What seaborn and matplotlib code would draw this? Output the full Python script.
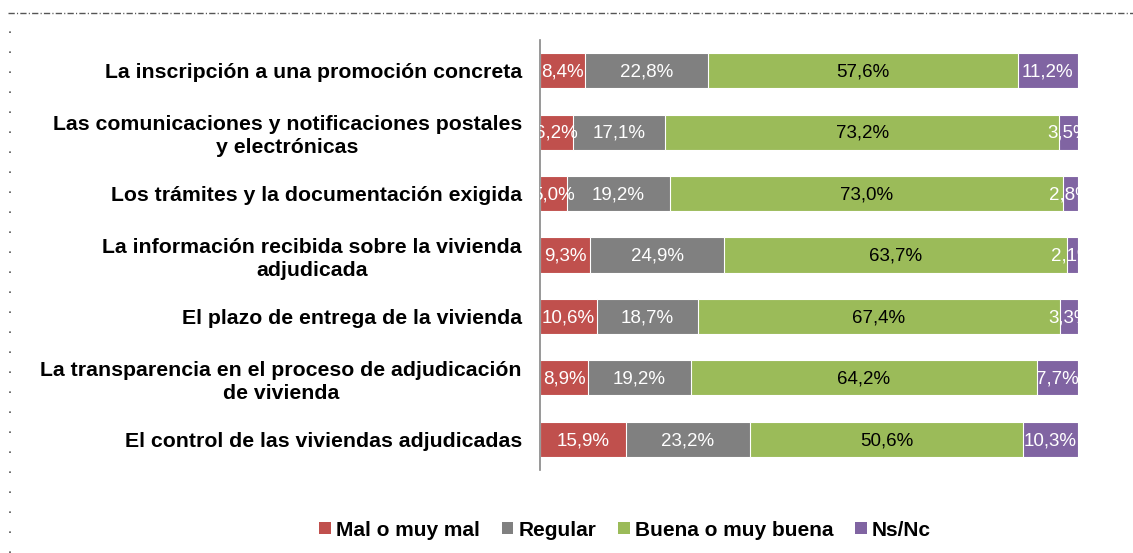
import numpy as np
import pandas as pd
import seaborn as sns
import matplotlib.pyplot as plt
from matplotlib.patches import Patch
from matplotlib.lines import Line2D

# Data (percentages)
categories = [
    "La inscripción a una promoción concreta",
    "Las comunicaciones y notificaciones postales\ny electrónicas",
    "Los trámites y la documentación exigida",
    "La información recibida sobre la vivienda\nadjudicada",
    "El plazo de entrega de la vivienda",
    "La transparencia en el proceso de adjudicación\nde vivienda",
    "El control de las viviendas adjudicadas",
]
mal = [8.4, 6.2, 5.0, 9.3, 10.6, 8.9, 15.9]
regular = [22.8, 17.1, 19.2, 24.9, 18.7, 19.2, 23.2]
buena = [57.6, 73.2, 73.0, 63.7, 67.4, 64.2, 50.6]
nsnc = [11.2, 3.5, 2.8, 2.1, 3.3, 7.7, 10.3]

series_names = ["Mal o muy mal", "Regular", "Buena o muy buena", "Ns/Nc"]
series_vals = [mal, regular, buena, nsnc]
colors = ["#C0504D", "#808080", "#9BBB59", "#8064A2"]
text_colors = ["white", "white", "black", "white"]

sns.set_style("white")
plt.rcParams['font.family'] = ['Liberation Sans', 'DejaVu Sans']
plt.rcParams['text.color'] = 'black'
plt.rcParams['ytick.color'] = 'black'

df = pd.DataFrame({"cat": categories})
cum = np.zeros(len(categories))
cums = []
for vals in series_vals:
    cum = cum + np.array(vals)
    cums.append(cum.copy())

fig = plt.figure(figsize=(11.33, 5.53), dpi=100)
ax = fig.add_axes([540 / 1133, 1 - 470 / 553, (1078 - 540) / 1133, (470 - 40) / 553])

# stacked bars: draw cumulative totals from the back to the front
for i in range(len(series_vals) - 1, -1, -1):
    df["v"] = cums[i]
    sns.barplot(data=df, x="v", y="cat", color=colors[i], orient="h",
                saturation=1, width=0.57, edgecolor="white", linewidth=0.8, ax=ax)

# segment labels
for i, vals in enumerate(series_vals):
    starts = cums[i] - np.array(vals)
    for j, v in enumerate(vals):
        ax.text(starts[j] + v / 2, j + 0.02, f"{v:.1f}%".replace(".", ","),
                ha="center", va="center", fontsize=13.5,
                color=text_colors[i], clip_on=True)

ax.set_xlim(0, 100)
ax.set_ylim(6.5, -0.5)
ax.set_xlabel("")
ax.set_ylabel("")
ax.set_xticks([])
for s in ["top", "right", "bottom"]:
    ax.spines[s].set_visible(False)
ax.spines["left"].set_color("#868686")
ax.spines["left"].set_linewidth(1.2)
ax.tick_params(axis="y", length=0, pad=13)
for lab in ax.get_yticklabels():
    lab.set_fontweight("bold")
    lab.set_fontsize(15.3)
    lab.set_color("black")
    lab.set_multialignment("center")
    lab.set_linespacing(1.25)

handles = [Patch(facecolor=c, edgecolor="none") for c in colors]
fig.legend(handles, series_names, loc="center", ncol=4,
           bbox_to_anchor=(625 / 1133, 1 - 530 / 553), frameon=False,
           prop={"weight": "bold", "size": 15},
           handlelength=0.55, handleheight=0.55, handletextpad=0.25,
           columnspacing=1.05)

# border artifacts of the original frame
fig.add_artist(Line2D([8 / 1133, 1], [1 - 13 / 553, 1 - 13 / 553],
                      transform=fig.transFigure, color="#555555",
                      linewidth=1.0, linestyle=(0, (4.5, 1.6, 0.8, 1.6))))
fig.add_artist(Line2D([10 / 1133, 10 / 1133], [0, 1 - 30 / 553],
                      transform=fig.transFigure, color="#555555",
                      linewidth=1.2, linestyle=(0, (1, 11))))

fig.savefig("out.png", dpi=100)
